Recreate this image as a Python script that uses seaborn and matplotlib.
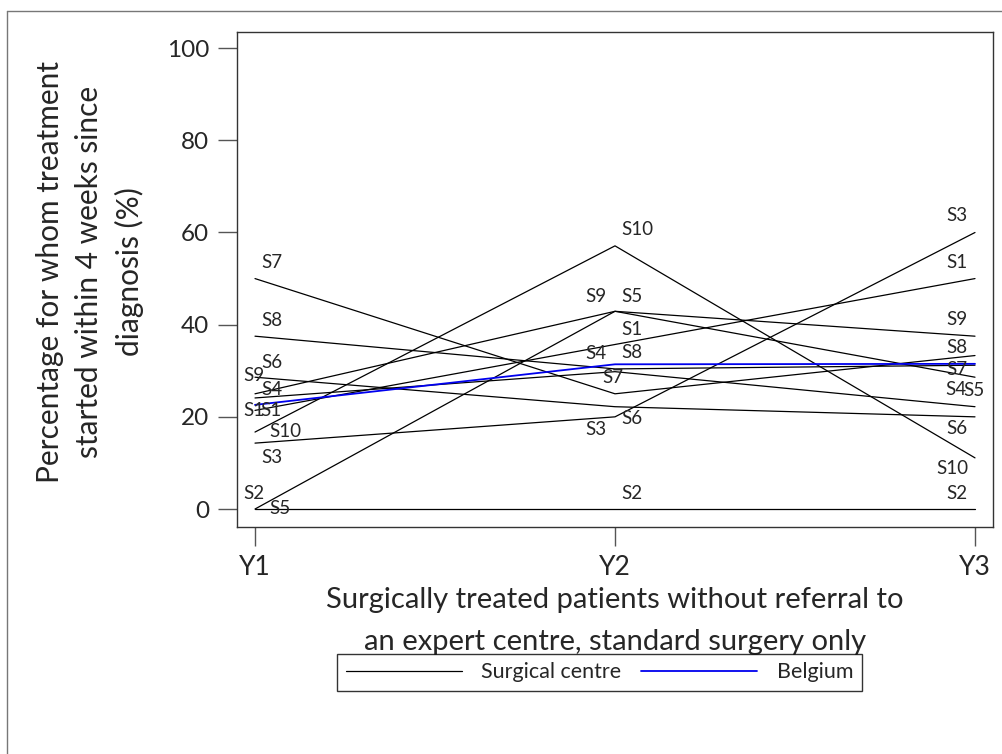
import pandas as pd
import matplotlib
matplotlib.use('Agg')
import matplotlib.pyplot as plt
from matplotlib.lines import Line2D
import seaborn as sns

# values (% treated within 4 weeks)
years = ['Y1', 'Y2', 'Y3']
centres = ['S1', 'S2', 'S3', 'S4', 'S5', 'S6', 'S7', 'S8', 'S9', 'S10']
s1 = [21.4, 35.7, 50.0]
s2 = [0.0, 0.0, 0.0]
s3 = [14.3, 20.0, 60.0]
s4 = [24.1, 29.8, 22.2]
s5 = [0.0, 42.9, 28.6]
s6 = [28.6, 22.2, 20.0]
s7 = [50.0, 25.0, 33.3]
s8 = [37.5, 30.4, 31.2]
s9 = [25.0, 42.9, 37.5]
s10 = [16.7, 57.1, 11.1]
belgium = [22.6, 31.4, 31.5]

series = [s1, s2, s3, s4, s5, s6, s7, s8, s9, s10]
rows = []
for name, vals in zip(centres, series):
    for yr, v in zip(years, vals):
        rows.append({'centre': name, 'year': yr, 'pct': v})
df = pd.DataFrame(rows)
bel = pd.DataFrame({'year': years, 'pct': belgium})

# label offsets in pixels (dx, dy) per centre and year, to mimic the original placement
label_off = {
    ('S7', 0): (17, 16), ('S8', 0): (17, 16), ('S6', 0): (17, 15), ('S9', 0): (-1, 18),
    ('S4', 0): (17, 8), ('S1', 0): (-1, 0), ('S10', 0): (30, 1), ('S3', 0): (17, -14),
    ('S2', 0): (-1, 16), ('S5', 0): (25, 1),
    ('S10', 1): (22, 16), ('S9', 1): (-19, 15), ('S5', 1): (17, 15), ('S1', 1): (17, 15),
    ('S4', 1): (-19, 18), ('S8', 1): (17, 16), ('S7', 1): (-2, 16), ('S6', 1): (17, -12),
    ('S3', 1): (-19, -13), ('S2', 1): (17, 16),
    ('S3', 2): (-18, 17), ('S1', 2): (-18, 16), ('S9', 2): (-18, 17), ('S8', 2): (-18, 18),
    ('S7', 2): (-18, -14), ('S4', 2): (-19, 17), ('S5', 2): (-1, -13), ('S6', 2): (-18, -12),
    ('S10', 2): (-23, -11), ('S2', 2): (-18, 16),
}

sns.set_style('ticks')
plt.rcParams['font.family'] = ['Lato', 'DejaVu Sans']

W, H = 1003, 754
fig = plt.figure(figsize=(W / 100, H / 100), dpi=100)
ax = fig.add_axes([237 / W, 1 - 527 / H, (993 - 237) / W, (527 - 32) / H])

sns.lineplot(data=df, x='year', y='pct', units='centre', estimator=None,
             color='black', linewidth=0.9, ax=ax)
sns.lineplot(data=bel, x='year', y='pct', color='#0000ee', linewidth=1.3, ax=ax)

for (name, i), (dx, dy) in label_off.items():
    v = series[centres.index(name)][i]
    ax.annotate(name, xy=(i, v), xytext=(dx, dy), textcoords='offset pixels',
                ha='center', va='center', fontsize=13.5)
# the original shows a second S1 tag next to the first one at Y1
ax.annotate('S1', xy=(0, s1[0]), xytext=(16, 0), textcoords='offset pixels',
            ha='center', va='center', fontsize=13.5)

ax.set_xlim(-0.05, 2.05)
ax.set_ylim(-3.9, 103.5)
ax.set_yticks([0, 20, 40, 60, 80, 100])
ax.tick_params(axis='both', direction='out', length=14, width=1, color='#555555',
               labelsize=19, pad=6)
ax.tick_params(axis='y', labelsize=17.5)
for sp in ax.spines.values():
    sp.set_visible(True)
    sp.set_color('#333333')
    sp.set_linewidth(1)

ax.set_xlabel('')
ax.set_ylabel('')
fig.text(615 / W, 1 - 621 / H,
         'Surgically treated patients without referral to\nan expert centre, standard surgery only',
         ha='center', va='center', fontsize=21, linespacing=1.8)
fig.text(90 / W, 1 - 272 / H,
         'Percentage for whom treatment\nstarted within 4 weeks since\ndiagnosis (%)',
         rotation=90, ha='center', va='center', fontsize=21.5, linespacing=1.5)

handles = [Line2D([], [], color='black', lw=0.9), Line2D([], [], color='#0000ee', lw=1.3)]
leg = fig.legend(handles, ['Surgical centre', 'Belgium'], loc='center',
                 bbox_to_anchor=(599.5 / W, 1 - 672.5 / H), ncol=2, fontsize=15.5,
                 frameon=True, fancybox=False, handlelength=5.4, columnspacing=0.9,
                 handletextpad=0.9, borderpad=0.4)
leg.get_frame().set_edgecolor('black')
leg.get_frame().set_linewidth(1)

# outer frame of the exported picture
fig.add_artist(Line2D([7 / W, 7 / W], [0, 1 - 11 / H], color='#777777', lw=1))
fig.add_artist(Line2D([7 / W, 1], [1 - 11 / H, 1 - 11 / H], color='#777777', lw=1))

fig.savefig('out.png', dpi=100)
